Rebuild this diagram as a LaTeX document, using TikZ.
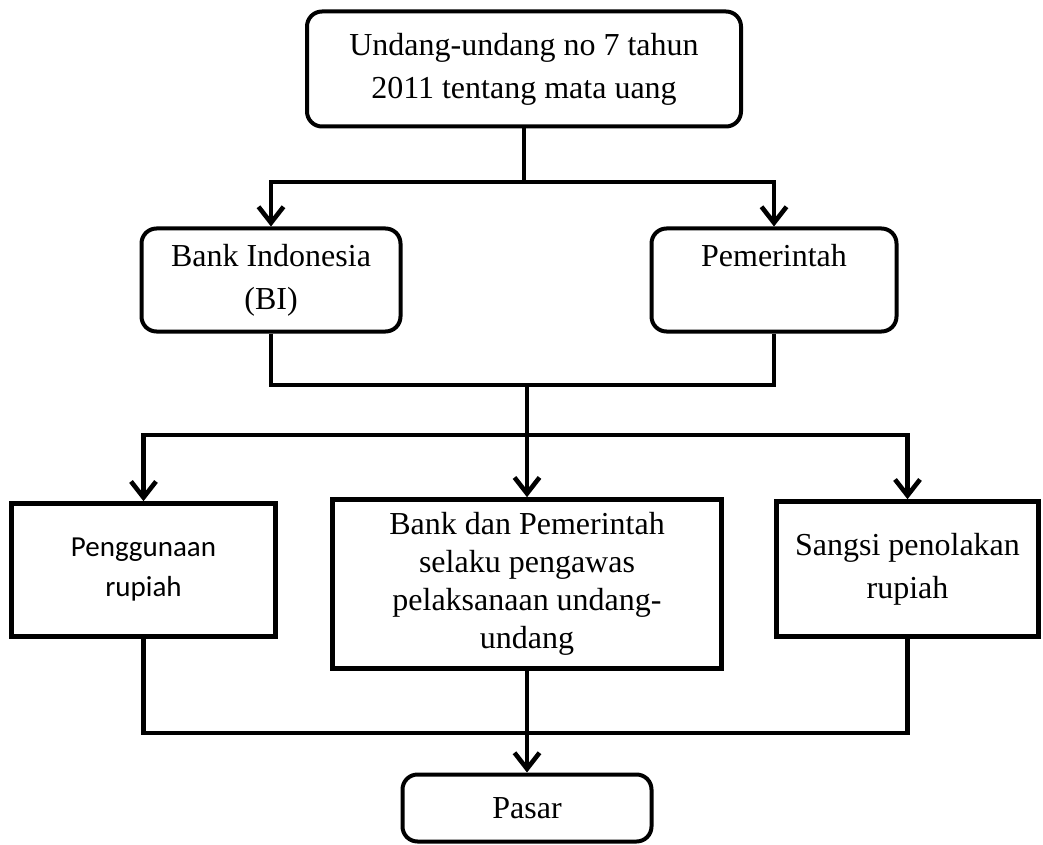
\documentclass[tikz,border=0pt]{standalone}
\usepackage{fontspec}
\setmainfont{Liberation Serif}
\newfontfamily\calibriFont{Carlito}
\usetikzlibrary{arrows.meta}

\begin{document}
\begin{tikzpicture}[
  x=0.5pt,y=-0.5pt,
  font=\fontsize{16}{21.5}\selectfont,
  roundBox/.style={draw,line width=2pt,rectangle,rounded corners=7.5pt,fill=white},
  plainBox/.style={draw,line width=2.3pt,rectangle,fill=white},
  boxLine/.style={-,line width=2.3pt,black},
  boxArrow/.style={-{Straight Barb[length=8pt,width=12.5pt]},line width=2.3pt,black},
  every node/.style={align=center}]

  \useasboundingbox (0,0) rectangle (1043,845);

  % the law at the top
  \node[roundBox,minimum width=217pt,minimum height=57.5pt] (uu) at (524,69) {Undang-undang no 7 tahun\\2011 tentang mata uang};

  % the two issuers
  \node[roundBox,minimum width=129.5pt,minimum height=51.5pt] (bi) at (271,280) {Bank Indonesia\\(BI)};
  \node[roundBox,minimum width=122.5pt,minimum height=51.5pt,text depth=25pt] (pem) at (774,280) {Pemerintah};

  % the three rules
  \node[plainBox,minimum width=132pt,minimum height=66.5pt,font=\calibriFont\fontsize{14.5}{20}\selectfont] (peng) at (143.5,570) {Penggunaan\\rupiah};
  \node[plainBox,minimum width=194.5pt,minimum height=84.5pt,font=\fontsize{16}{18.9}\selectfont] (awas) at (527,584) {Bank dan Pemerintah\\selaku pengawas\\pelaksanaan undang-\\undang};
  \node[plainBox,minimum width=131pt,minimum height=67.5pt] (sangsi) at (907.5,569) {Sangsi penolakan\\rupiah};

  \node[roundBox,minimum width=124.5pt,minimum height=33.5pt] (pasar) at (527,808) {Pasar};

  % junctions
  \coordinate (j1) at (524,182);
  \coordinate (j2) at (527,385);
  \coordinate (j3) at (527,435);
  \coordinate (j4) at (527,733);

  % law to issuers
  \draw [boxLine] (uu) -- (j1);
  \draw [boxArrow] (j1) -| (bi);
  \draw [boxArrow] (j1) -| (pem);

  % issuers to rules
  \draw [boxLine] (bi) |- (j2) -| (pem);
  \draw [boxArrow] (j2) -- (awas);
  \draw [boxArrow] (j3) -| (peng);
  \draw [boxArrow] (j3) -| (sangsi);

  % rules to market
  \draw [boxLine] (peng) |- (j4) -| (sangsi);
  \draw [boxArrow] (awas) -- (pasar);

\end{tikzpicture}
\end{document}
